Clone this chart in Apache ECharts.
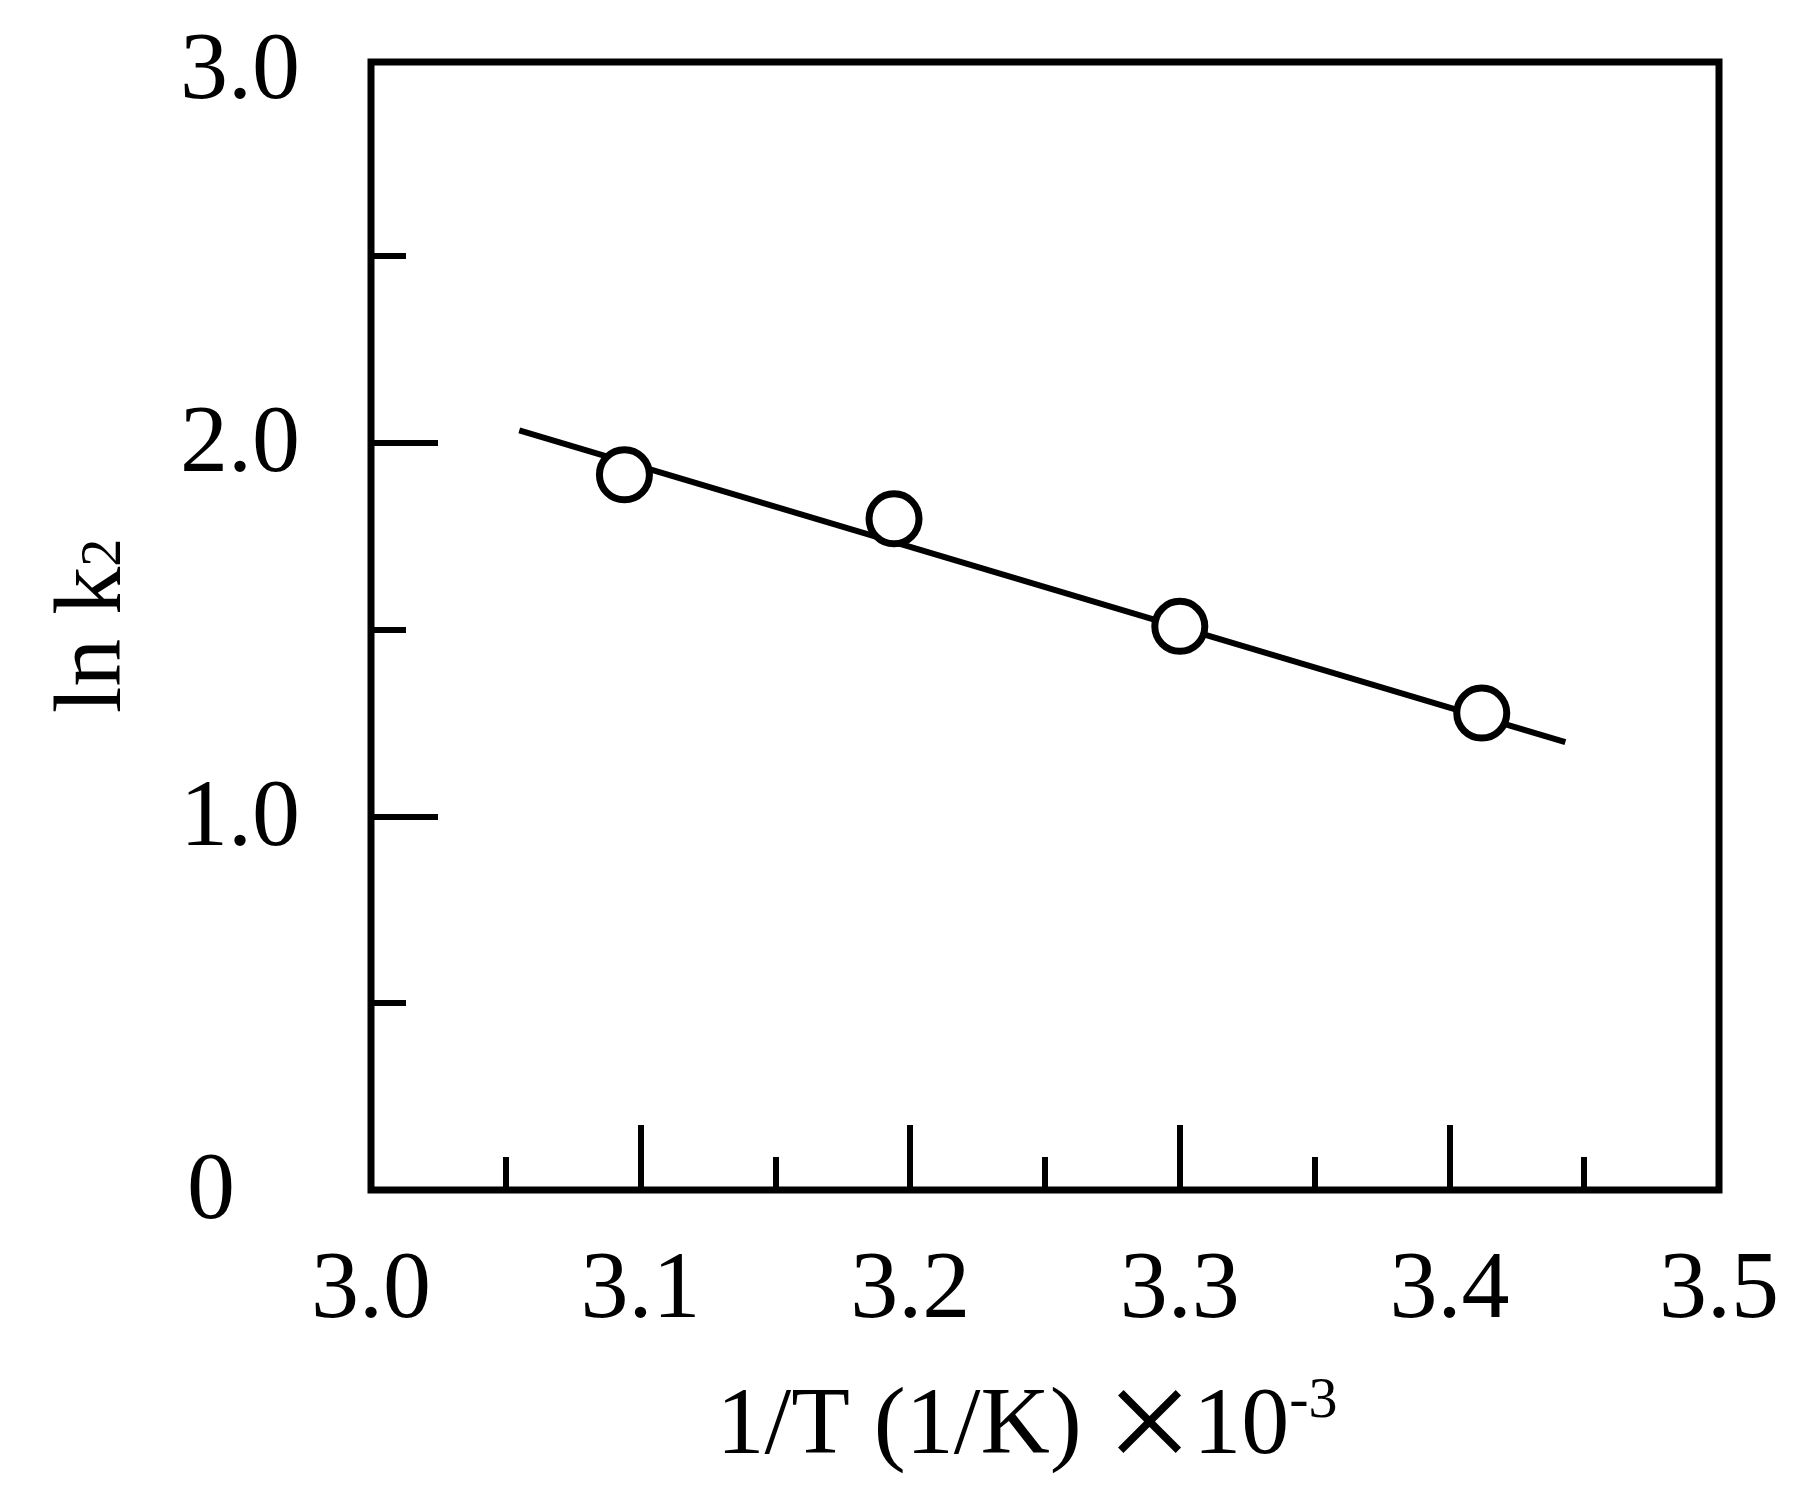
<!DOCTYPE html>
<html>
<head>
<meta charset="utf-8">
<script src="https://cdn.jsdelivr.net/npm/echarts@6/dist/echarts.min.js"></script>
<style>
  html, body { margin: 0; padding: 0; background: #fff; }
  #chart { width: 1798px; height: 1506px; }
</style>
</head>
<body>
<div id="chart"></div>
<script>
// ---- data ----
const invT = [3.094, 3.194, 3.300, 3.412];      // 1/T ×10^-3 (1/K)
const lnK2 = [1.915, 1.797, 1.509, 1.277];      // ln k2
const fitX = [3.055, 3.443];                    // fitted line ends
const fitY = [2.034, 1.199];
const yLabelValues = [0, 1, 2, 3];
const yMajorTicks = [1, 2];
const yMinorTicks = [0.5, 1.5, 2.5];
const xMin = 3.0, xMax = 3.5, xStep = 0.1;
const yMin = 0, yMax = 3.02;

const FONT = '"Liberation Serif", "Times New Roman", serif';

const chart = echarts.init(document.getElementById('chart'), null, { renderer: 'canvas' });

const scatterData = invT.map((x, i) => [x, lnK2[i]]);
const fitData = fitX.map((x, i) => [x, fitY[i]]);

chart.setOption({
  animation: false,
  backgroundColor: '#fff',
  grid: {
    left: 371, right: 79, top: 62, bottom: 316,
    containLabel: false, outerBoundsMode: 'none',
    show: true, borderColor: '#000', borderWidth: 7, backgroundColor: 'transparent'
  },
  xAxis: [{
    type: 'value', min: xMin, max: xMax, interval: xStep, position: 'bottom',
    axisLine: { show: false },
    axisTick: { show: true, inside: true, length: 65, lineStyle: { color: '#000', width: 6 } },
    minorTick: { show: true, splitNumber: 2, length: 33, lineStyle: { color: '#000', width: 6 } },
    splitLine: { show: false }, minorSplitLine: { show: false },
    axisLabel: {
      margin: 54, color: '#000', fontSize: 96, fontFamily: FONT,
      formatter: v => v.toFixed(1)
    },
    name: '{a|1/T (1/K) }{x|×}{a|10}{s|-3}',
    nameLocation: 'middle', nameGap: 181,
    nameTextStyle: {
      color: '#000', fontFamily: FONT, fontSize: 96, padding: [0, 36, 0, 0],
      rich: {
        a: { fontSize: 96, fontFamily: FONT, color: '#000', lineHeight: 110 },
        x: { fontSize: 155, fontFamily: FONT, color: '#000', lineHeight: 110, verticalAlign: 'middle', padding: [10, 0, 0, 0] },
        s: { fontSize: 58, fontFamily: FONT, color: '#000', verticalAlign: 'top', padding: [0, 0, 30, 0] }
      }
    }
  }],
  yAxis: [{
    type: 'value', min: yMin, max: yMax, position: 'left',
    axisLine: { show: false },
    axisTick: { show: true, inside: true, length: 67, customValues: yMajorTicks, lineStyle: { color: '#000', width: 6 } },
    splitLine: { show: false },
    axisLabel: {
      margin: 71, color: '#000', fontSize: 96, fontFamily: FONT,
      customValues: yLabelValues,
      formatter: v => (v === 0 ? '{z|0}' : '{n|' + v.toFixed(1) + '}'),
      rich: {
        n: { fontSize: 96, fontFamily: FONT, color: '#000', padding: [6, 0, 0, 0] },
        z: { fontSize: 96, fontFamily: FONT, color: '#000', padding: [6, 65, 0, 0] }
      }
    },
    name: '{a|ln k}{b|2}',
    nameLocation: 'middle', nameRotate: 90, nameGap: 228,
    nameTextStyle: {
      color: '#000', fontFamily: FONT, fontSize: 96,
      rich: {
        a: { fontSize: 96, fontFamily: FONT, color: '#000' },
        b: { fontSize: 56, fontFamily: FONT, color: '#000', verticalAlign: 'bottom', padding: [0, 0, 10, 0] }
      }
    }
  }, {
    type: 'value', min: yMin, max: yMax, position: 'left',
    axisLine: { show: false },
    axisTick: { show: true, inside: true, length: 35, customValues: yMinorTicks, lineStyle: { color: '#000', width: 6 } },
    axisLabel: { show: false },
    splitLine: { show: false }
  }],
  series: [{
    type: 'line', data: fitData, xAxisIndex: 0, yAxisIndex: 0,
    symbol: 'none', lineStyle: { color: '#000', width: 6 }, z: 2
  }, {
    type: 'scatter', data: scatterData, xAxisIndex: 0, yAxisIndex: 0,
    symbol: 'circle', symbolSize: 50,
    itemStyle: { color: '#fff', borderColor: '#000', borderWidth: 7, opacity: 1 },
    z: 3
  }]
});
</script>
</body>
</html>
